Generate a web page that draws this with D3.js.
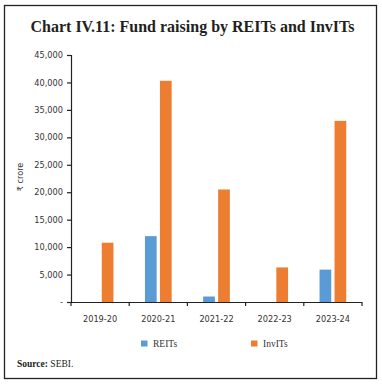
<!DOCTYPE html>
<html><head><meta charset="utf-8">
<script src="https://cdn.jsdelivr.net/npm/d3@7"></script>
<style>html,body{margin:0;padding:0;background:#fff;}svg{display:block;}</style>
</head><body>
<script>
const categories = ["2019-20","2020-21","2021-22","2022-23","2023-24"];
const reits  = [0, 12000, 1000, 0, 5900];
const invits = [10800, 40300, 20500, 6300, 33000];
const seriesNames = ["REITs","InvITs"];
const seriesColors = ["#5B9BD5","#ED7D31"];
const yTicks = [0,5000,10000,15000,20000,25000,30000,35000,40000,45000];

(function(){
const W=382,H=384;
const svg=d3.select("body").append("svg").attr("width",W).attr("height",H);
svg.append("rect").attr("x",4.5).attr("y",5.5).attr("width",372).attr("height",373)
  .attr("fill","#fff").attr("stroke","#222").attr("stroke-width",1.3);

svg.append("text").attr("x",192.5).attr("y",32).attr("text-anchor","middle")
  .attr("font-family","Liberation Serif").attr("font-weight","bold").attr("font-size",16)
  .attr("fill","#231f20").text("Chart IV.11: Fund raising by REITs and InvITs");

const pl=71,pr=362,pt=55,pb=302;
const x=d3.scaleBand().domain(categories).range([pl,pr]);
const y=d3.scaleLinear().domain([0,45000]).range([pb,pt]);
const xs=d3.scaleBand().domain(seriesNames).range([0,x.bandwidth()]).paddingInner(0.22).paddingOuter(1.05);

const data=[reits,invits];
data.forEach((vals,si)=>{
  svg.append("g").selectAll("rect").data(vals).join("rect")
    .attr("x",(d,i)=>x(categories[i])+xs(seriesNames[si]))
    .attr("width",xs.bandwidth())
    .attr("y",d=>y(d)).attr("height",d=>y(0)-y(d))
    .attr("fill",seriesColors[si]);
});

const fmt=d=>d===0?"-":d3.format(",")(d);
const ya=svg.append("g").attr("transform",`translate(${pl},0)`)
  .call(d3.axisLeft(y).tickValues(yTicks).tickFormat(fmt).tickSize(4).tickPadding(4));
const xa=svg.append("g").attr("transform",`translate(0,${pb})`)
  .call(d3.axisBottom(x).tickSize(0).tickPadding(14));
svg.append("g").selectAll("line").data(d3.range(categories.length+1)).join("line")
  .attr("x1",i=>pl+i*x.step()).attr("x2",i=>pl+i*x.step())
  .attr("y1",pb).attr("y2",pb+4).attr("stroke","#222").attr("stroke-width",1.2);
[ya,xa].forEach(a=>{
  a.selectAll("path,line").attr("stroke","#222").attr("stroke-width",1.2);
  a.selectAll("text").attr("font-family","DejaVu Sans").attr("font-size",8.2).attr("fill","#333");
});
xa.select(".domain").attr("d",`M${pl},0.5H${pr}`);

svg.append("text").attr("transform","translate(23,177) rotate(-90)").attr("text-anchor","middle")
  .attr("font-family","DejaVu Sans").attr("font-size",8.2).attr("fill","#333").text("₹ crore");

const legX=[141,251];
seriesNames.forEach((n,i)=>{
  svg.append("rect").attr("x",legX[i]).attr("y",340.5).attr("width",6.5).attr("height",6).attr("fill",seriesColors[i]);
  svg.append("text").attr("x",legX[i]+12).attr("y",347).attr("font-family","Liberation Serif")
    .attr("font-size",9.5).attr("fill","#333").text(n);
});

const src=svg.append("text").attr("x",17).attr("y",367).attr("font-family","Liberation Serif")
  .attr("font-size",9.5).attr("fill","#231f20");
src.append("tspan").attr("font-weight","bold").text("Source: ");
src.append("tspan").text("SEBI.");
})();
</script>
</body></html>
